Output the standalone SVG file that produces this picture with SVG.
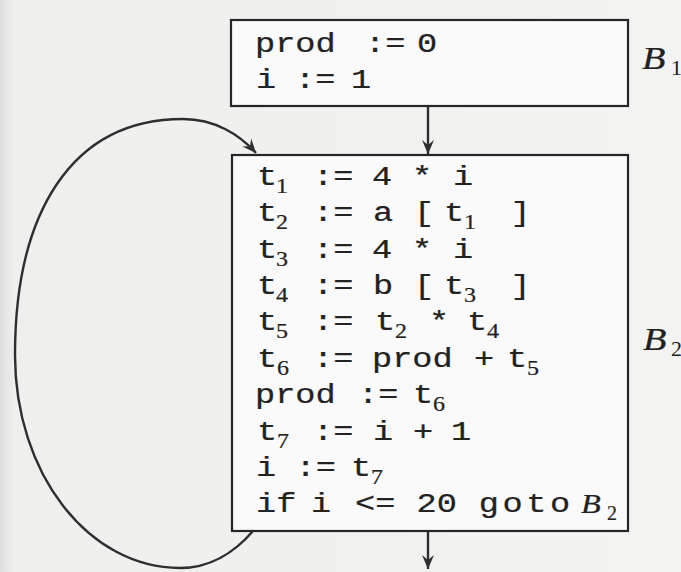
<svg xmlns="http://www.w3.org/2000/svg" width="681" height="572" viewBox="0 0 681 572">
<style>
.code{font-family:"Liberation Mono","DejaVu Sans Mono",monospace;font-size:28px;fill:#222;stroke:#222;stroke-width:0.25;}
.sub{font-family:"Liberation Serif","DejaVu Serif",serif;font-size:20px;fill:#222;stroke:#222;stroke-width:0.2;}
.lbl{font-family:"Liberation Serif","DejaVu Serif",serif;font-style:italic;font-size:32px;fill:#222;stroke:#222;stroke-width:0.25;}
.lsub{font-family:"Liberation Serif","DejaVu Serif",serif;font-size:22px;fill:#222;}
.box{fill:#fafafa;stroke:#262626;stroke-width:2.2;}
.edge{fill:none;stroke:#2e2e2e;stroke-width:2.4;}
</style>
<defs>
<marker id="ah" viewBox="-15 -7 16 14" refX="0" refY="0" markerWidth="16" markerHeight="14" markerUnits="userSpaceOnUse" orient="auto">
<path d="M0,0 L-14,-6 L-9,0 L-14,6 Z" fill="#2e2e2e"/>
</marker>
<linearGradient id="bg" x1="0" y1="0" x2="1" y2="0">
<stop offset="0" stop-color="#dedede"/>
<stop offset="0.02" stop-color="#efefed"/>
<stop offset="1" stop-color="#f3f3f1"/>
</linearGradient>
</defs>
<rect x="0" y="0" width="681" height="572" fill="url(#bg)"/>

<g id="connectors">
<line class="edge" x1="428" y1="107" x2="428" y2="154" marker-end="url(#ah)"/>
<line class="edge" x1="428" y1="532" x2="428" y2="569" marker-end="url(#ah)"/>
<path class="edge" d="M253,531 C235,552 210,568 180,568 C88,568 15,473 15,355 C15,215 70,119 183,119 C215,119 240,135 256,153" marker-end="url(#ah)"/>
</g>

<g id="B1">
<rect class="box" x="231" y="20" width="397" height="86"/>
<g transform="scale(1.2,1)">
<text class="code"><tspan x="212.5" y="52">prod</tspan><tspan x="304.17" y="52">:=</tspan><tspan x="347.5" y="52">0</tspan></text>
<text class="code"><tspan x="213.33" y="88">i</tspan><tspan x="245.83" y="88">:=</tspan><tspan x="292.5" y="88">1</tspan></text>
</g>
<text class="lbl" transform="translate(642,69) scale(1.2,1)">B</text>
<text class="lsub" x="671" y="75">1</text>
</g>

<g id="B2">
<rect class="box" x="232" y="155" width="396" height="376"/>
<g transform="scale(1.2,1)">
<text class="code"><tspan x="214.17" y="185">t</tspan><tspan class="sub" x="230" y="193">1</tspan><tspan x="260.83" y="185">:=</tspan><tspan x="310" y="185">4</tspan><tspan x="343.33" y="185">*</tspan><tspan x="377.5" y="185">i</tspan></text>
<text class="code"><tspan x="214.17" y="221">t</tspan><tspan class="sub" x="230" y="229">2</tspan><tspan x="260.83" y="221">:=</tspan><tspan x="310.83" y="221">a</tspan><tspan x="345" y="221">[</tspan><tspan x="370" y="221">t</tspan><tspan class="sub" x="386.67" y="229">1</tspan><tspan x="425.5" y="221">]</tspan></text>
<text class="code"><tspan x="214.17" y="258">t</tspan><tspan class="sub" x="230" y="266">3</tspan><tspan x="260.83" y="258">:=</tspan><tspan x="310" y="258">4</tspan><tspan x="343.33" y="258">*</tspan><tspan x="377.5" y="258">i</tspan></text>
<text class="code"><tspan x="214.17" y="294">t</tspan><tspan class="sub" x="230" y="302">4</tspan><tspan x="260.83" y="294">:=</tspan><tspan x="310.83" y="294">b</tspan><tspan x="345" y="294">[</tspan><tspan x="370" y="294">t</tspan><tspan class="sub" x="386.67" y="302">3</tspan><tspan x="425.5" y="294">]</tspan></text>
<text class="code"><tspan x="214.17" y="330">t</tspan><tspan class="sub" x="230" y="338">5</tspan><tspan x="260.83" y="330">:=</tspan><tspan x="312.5" y="330">t</tspan><tspan class="sub" x="329.17" y="338">2</tspan><tspan x="357.5" y="330">*</tspan><tspan x="389.17" y="330">t</tspan><tspan class="sub" x="405.83" y="338">4</tspan></text>
<text class="code"><tspan x="214.17" y="367">t</tspan><tspan class="sub" x="230.83" y="375">6</tspan><tspan x="260.83" y="367">:=</tspan><tspan x="310" y="367">prod</tspan><tspan x="395" y="367">+</tspan><tspan x="422.5" y="367">t</tspan><tspan class="sub" x="439.17" y="375">5</tspan></text>
<text class="code"><tspan x="212.5" y="403">prod</tspan><tspan x="298.33" y="403">:=</tspan><tspan x="344.17" y="403">t</tspan><tspan class="sub" x="360.83" y="411">6</tspan></text>
<text class="code"><tspan x="214.17" y="440">t</tspan><tspan class="sub" x="230.83" y="448">7</tspan><tspan x="260.83" y="440">:=</tspan><tspan x="310.83" y="440">i</tspan><tspan x="344.17" y="440">+</tspan><tspan x="375.83" y="440">1</tspan></text>
<text class="code"><tspan x="213.33" y="476">i</tspan><tspan x="246.25" y="476">:=</tspan><tspan x="292.5" y="476">t</tspan><tspan class="sub" x="309.17" y="484">7</tspan></text>
<text class="code"><tspan x="213.33" y="512">if</tspan><tspan x="259.17" y="512">i</tspan><tspan x="295.83" y="512">&lt;=</tspan><tspan x="347.08" y="512">20</tspan><tspan x="399" y="512" letter-spacing="3">goto</tspan></text>
</g>
<text class="lbl" style="font-size:27px" transform="translate(581,513) scale(1.2,1)">B</text>
<text class="sub" x="607" y="520">2</text>
<text class="lbl" transform="translate(643,350) scale(1.2,1)">B</text>
<text class="lsub" x="671" y="356">2</text>
</g>
</svg>
